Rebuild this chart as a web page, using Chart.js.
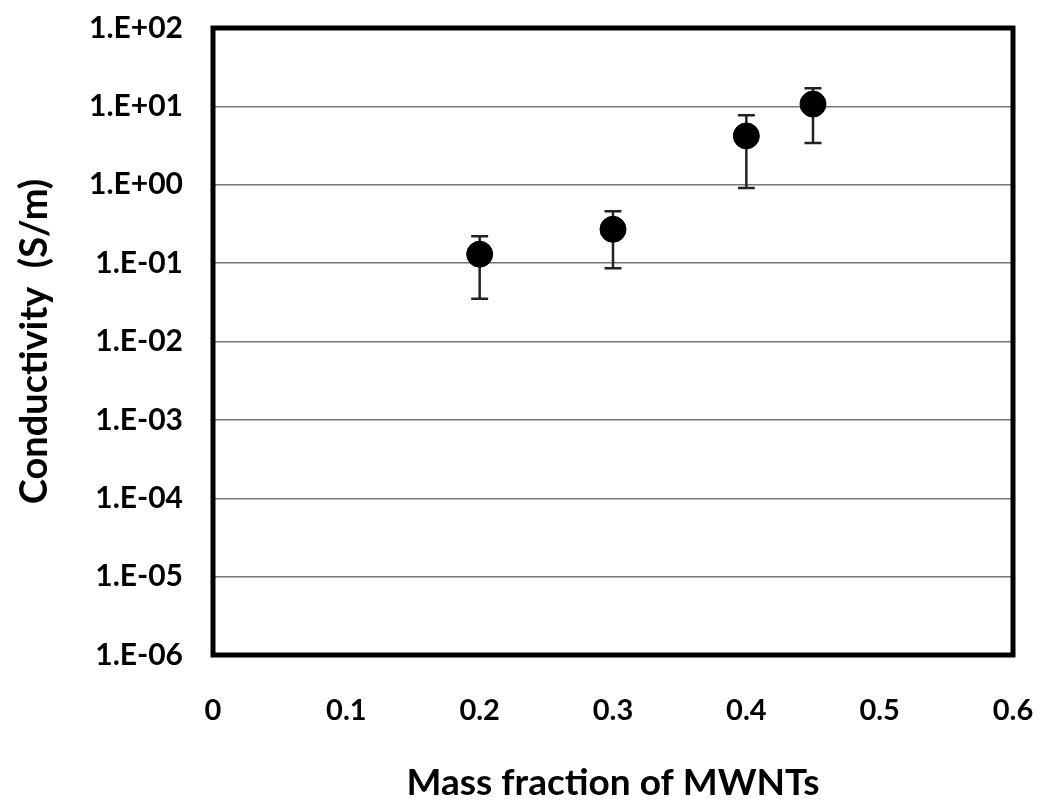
<!DOCTYPE html>
<html>
<head>
<meta charset="utf-8">
<script src="https://cdn.jsdelivr.net/npm/chart.js@4.4.1/dist/chart.umd.min.js"></script>
<style>
  html, body { margin: 0; padding: 0; background: #fff; }
  #wrap { width: 1050px; height: 809px; }
</style>
</head>
<body>
<div id="wrap"><canvas id="myChart" width="1050" height="809"></canvas></div>
<script>
// data
const massFraction = [0.2, 0.3, 0.4, 0.45];
const conductivity = [0.13, 0.27, 4.2, 10.7];
const errUpper = [0.22, 0.46, 7.7, 17];
const errLower = [0.035, 0.086, 0.91, 3.4];
const yTickValues = [1e-6, 1e-5, 1e-4, 1e-3, 1e-2, 1e-1, 1, 10, 100];
const yTickLabels = ['1.E-06', '1.E-05', '1.E-04', '1.E-03', '1.E-02', '1.E-01', '1.E+00', '1.E+01', '1.E+02'];
const xTickValues = [0, 0.1, 0.2, 0.3, 0.4, 0.5, 0.6];

const FONT = "Lato, 'Open Sans', sans-serif";

// error bars + thick frame
const errorBars = {
  id: 'errorBars',
  beforeDatasetsDraw(chart) {
    const ctx = chart.ctx;
    const xs = chart.scales.x, ys = chart.scales.y;
    ctx.save();
    ctx.strokeStyle = '#222';
    ctx.lineWidth = 2.5;
    for (let i = 0; i < massFraction.length; i++) {
      const px = xs.getPixelForValue(massFraction[i]);
      const top = ys.getPixelForValue(errUpper[i]);
      const bot = ys.getPixelForValue(errLower[i]);
      ctx.beginPath();
      ctx.moveTo(px, top); ctx.lineTo(px, bot);
      ctx.moveTo(px - 8.5, top); ctx.lineTo(px + 8.5, top);
      ctx.moveTo(px - 8.5, bot); ctx.lineTo(px + 8.5, bot);
      ctx.stroke();
    }
    ctx.restore();
  },
  afterDraw(chart) {
    const a = chart.chartArea, ctx = chart.ctx;
    ctx.save();
    ctx.strokeStyle = '#000';
    ctx.lineWidth = 5;
    ctx.strokeRect(a.left, a.top, a.right - a.left, a.bottom - a.top);
    ctx.restore();
  }
};

const ctx = document.getElementById('myChart').getContext('2d');
new Chart(ctx, {
  type: 'scatter',
  data: {
    datasets: [{
      data: massFraction.map((x, i) => ({ x: x, y: conductivity[i] })),
      backgroundColor: '#000',
      borderColor: '#000',
      pointRadius: 13,
      pointHoverRadius: 13
    }]
  },
  options: {
    responsive: false,
    animation: false,
    layout: { padding: { top: 28, right: 37, left: 0, bottom: 0 } },
    plugins: { legend: { display: false }, tooltip: { enabled: false } },
    scales: {
      x: {
        type: 'linear',
        min: 0, max: 0.6,
        afterBuildTicks: s => { s.ticks = xTickValues.map(v => ({ value: v })); },
        afterFit: s => { s.height = 809 - 655; s.paddingLeft = 0; s.paddingRight = 0; },
        grid: { display: false, drawTicks: false },
        border: { display: false },
        ticks: {
          padding: 38,
          color: '#000',
          font: { family: FONT, size: 29, weight: 'bold' },
          callback: v => String(Math.round(v * 10) / 10)
        },
        title: {
          display: true,
          text: 'Mass fraction of MWNTs',
          color: '#000',
          font: { family: FONT, size: 37, weight: 'bold' },
          padding: { top: 28 }
        }
      },
      y: {
        type: 'logarithmic',
        min: 1e-6, max: 100,
        afterBuildTicks: s => { s.ticks = yTickValues.map(v => ({ value: v })); },
        afterFit: s => { s.width = 213; s.paddingTop = 0; s.paddingBottom = 0; },
        grid: { color: '#777', lineWidth: 1.5, drawTicks: false },
        border: { display: false },
        ticks: {
          padding: 30,
          color: '#000',
          font: { family: FONT, size: 30, weight: 'bold' },
          callback: (v, i) => yTickLabels[i]
        },
        title: {
          display: true,
          text: 'Conductivity  (S/m)',
          color: '#000',
          font: { family: FONT, size: 38, weight: 'bold' },
          padding: { top: 12, bottom: 0 }
        }
      }
    }
  },
  plugins: [errorBars]
});
</script>
</body>
</html>
